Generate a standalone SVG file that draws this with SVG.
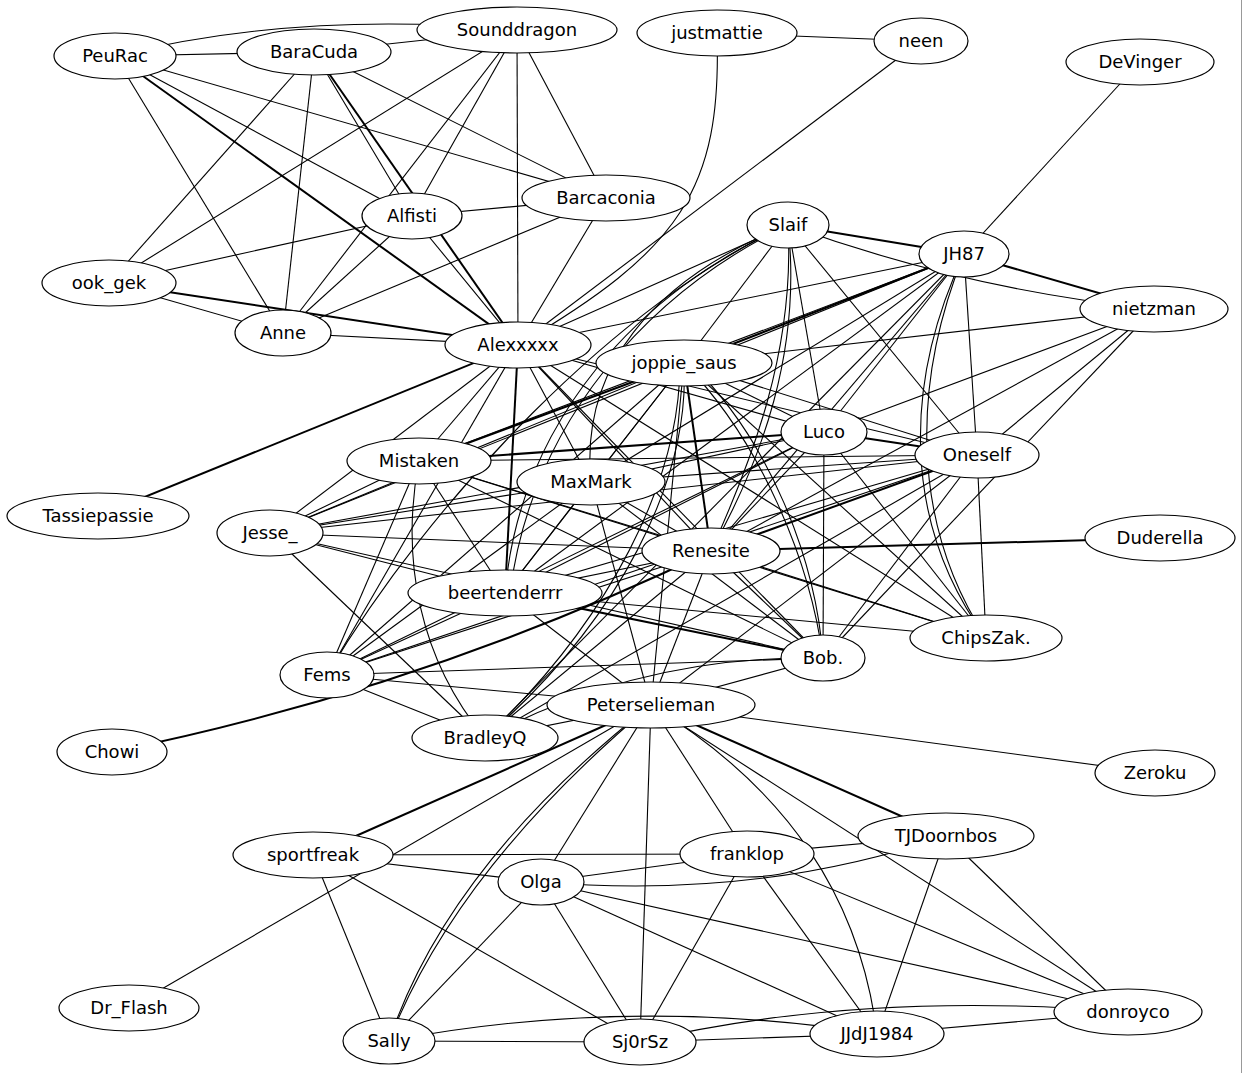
<svg xmlns="http://www.w3.org/2000/svg" width="1243" height="1073" viewBox="0 0 1243 1073">
<style>
.e{stroke:#000;stroke-width:1.1;fill:none}
.d{stroke:#000;stroke-width:2;fill:none}
.n ellipse{fill:#fff;stroke:#000;stroke-width:1.2}
.n text{font-family:"DejaVu Sans",Verdana,sans-serif;font-size:18px;text-anchor:middle;fill:#000}
</style>
<rect width="1243" height="1073" fill="#fff"/>
<line x1="1241.5" y1="0" x2="1241.5" y2="1073" stroke="#999" stroke-width="1"/>
<g id="edges">
<line class="e" x1="115" y1="56" x2="314" y2="52"/>
<line class="e" x1="115" y1="56" x2="606" y2="198"/>
<line class="e" x1="115" y1="56" x2="412" y2="216"/>
<line class="d" x1="115" y1="56" x2="518" y2="345"/>
<line class="e" x1="115" y1="56" x2="283" y2="333"/>
<path class="e" d="M115,56 Q300,10 517,30"/>
<line class="e" x1="314" y1="52" x2="517" y2="30"/>
<line class="e" x1="314" y1="52" x2="109" y2="283"/>
<line class="e" x1="314" y1="52" x2="283" y2="333"/>
<line class="e" x1="314" y1="52" x2="412" y2="216"/>
<line class="d" x1="314" y1="52" x2="518" y2="345"/>
<line class="e" x1="314" y1="52" x2="606" y2="198"/>
<line class="e" x1="517" y1="30" x2="109" y2="283"/>
<line class="e" x1="517" y1="30" x2="283" y2="333"/>
<line class="e" x1="517" y1="30" x2="412" y2="216"/>
<line class="e" x1="517" y1="30" x2="518" y2="345"/>
<line class="e" x1="517" y1="30" x2="606" y2="198"/>
<line class="e" x1="412" y1="216" x2="109" y2="283"/>
<line class="e" x1="412" y1="216" x2="283" y2="333"/>
<line class="e" x1="412" y1="216" x2="606" y2="198"/>
<line class="e" x1="412" y1="216" x2="518" y2="345"/>
<line class="e" x1="606" y1="198" x2="283" y2="333"/>
<line class="e" x1="606" y1="198" x2="518" y2="345"/>
<line class="e" x1="109" y1="283" x2="283" y2="333"/>
<line class="d" x1="109" y1="283" x2="518" y2="345"/>
<line class="e" x1="283" y1="333" x2="518" y2="345"/>
<line class="e" x1="717" y1="33" x2="921" y2="41"/>
<path class="e" d="M717,33 C722,190 680,250 518,345"/>
<line class="e" x1="921" y1="41" x2="518" y2="345"/>
<line class="e" x1="1140" y1="62" x2="964" y2="254"/>
<line class="d" x1="98" y1="516" x2="518" y2="345"/>
<line class="e" x1="788" y1="225" x2="518" y2="345"/>
<line class="e" x1="964" y1="254" x2="518" y2="345"/>
<line class="e" x1="1154" y1="309" x2="684" y2="363"/>
<line class="d" x1="788" y1="225" x2="964" y2="254"/>
<path class="e" d="M788,225 Q967,290 1154,309"/>
<line class="e" x1="788" y1="225" x2="977" y2="455"/>
<line class="e" x1="788" y1="225" x2="824" y2="432"/>
<line class="e" x1="788" y1="225" x2="684" y2="363"/>
<path class="e" d="M788,225 C640,290 520,420 505,593"/>
<path class="e" d="M788,225 C650,292 532,420 510,593"/>
<path class="e" d="M788,225 C650,280 580,370 591,482"/>
<path class="e" d="M788,225 C802,350 762,460 711,551"/>
<path class="e" d="M788,225 C795,350 752,460 711,551"/>
<path class="e" d="M788,225 C620,300 430,500 327,675"/>
<line class="d" x1="964" y1="254" x2="1154" y2="309"/>
<line class="e" x1="964" y1="254" x2="977" y2="455"/>
<line class="e" x1="964" y1="254" x2="824" y2="432"/>
<line class="d" x1="964" y1="254" x2="684" y2="363"/>
<line class="e" x1="964" y1="254" x2="419" y2="461"/>
<line class="e" x1="964" y1="254" x2="591" y2="482"/>
<line class="e" x1="964" y1="254" x2="711" y2="551"/>
<line class="e" x1="964" y1="254" x2="505" y2="593"/>
<line class="e" x1="964" y1="254" x2="485" y2="738"/>
<line class="e" x1="964" y1="254" x2="270" y2="533"/>
<path class="e" d="M964,254 C905,380 900,520 986,638"/>
<path class="e" d="M964,254 C913,380 909,520 986,638"/>
<line class="e" x1="1154" y1="309" x2="824" y2="432"/>
<line class="e" x1="1154" y1="309" x2="977" y2="455"/>
<line class="e" x1="1154" y1="309" x2="711" y2="551"/>
<line class="e" x1="1154" y1="309" x2="823" y2="658"/>
<line class="d" x1="824" y1="432" x2="977" y2="455"/>
<line class="e" x1="824" y1="432" x2="823" y2="658"/>
<line class="e" x1="824" y1="432" x2="986" y2="638"/>
<line class="d" x1="824" y1="432" x2="419" y2="461"/>
<line class="e" x1="824" y1="432" x2="591" y2="482"/>
<line class="e" x1="824" y1="432" x2="270" y2="533"/>
<line class="e" x1="824" y1="432" x2="505" y2="593"/>
<line class="e" x1="824" y1="432" x2="711" y2="551"/>
<line class="e" x1="824" y1="432" x2="327" y2="675"/>
<line class="e" x1="824" y1="432" x2="684" y2="363"/>
<line class="e" x1="824" y1="432" x2="518" y2="345"/>
<line class="e" x1="977" y1="455" x2="986" y2="638"/>
<line class="e" x1="977" y1="455" x2="823" y2="658"/>
<line class="d" x1="977" y1="455" x2="711" y2="551"/>
<line class="e" x1="977" y1="455" x2="684" y2="363"/>
<line class="e" x1="977" y1="455" x2="518" y2="345"/>
<line class="e" x1="977" y1="455" x2="419" y2="461"/>
<line class="e" x1="977" y1="455" x2="591" y2="482"/>
<line class="e" x1="977" y1="455" x2="270" y2="533"/>
<line class="e" x1="977" y1="455" x2="505" y2="593"/>
<line class="e" x1="977" y1="455" x2="485" y2="738"/>
<line class="e" x1="977" y1="455" x2="327" y2="675"/>
<line class="e" x1="977" y1="455" x2="651" y2="705"/>
<line class="d" x1="684" y1="363" x2="419" y2="461"/>
<line class="e" x1="684" y1="363" x2="591" y2="482"/>
<line class="e" x1="684" y1="363" x2="270" y2="533"/>
<line class="d" x1="684" y1="363" x2="711" y2="551"/>
<path class="e" d="M684,363 C760,440 810,560 823,658"/>
<path class="e" d="M690,363 C770,440 816,560 823,658"/>
<line class="e" x1="684" y1="363" x2="986" y2="638"/>
<line class="e" x1="684" y1="363" x2="505" y2="593"/>
<path class="e" d="M684,363 C690,480 620,620 485,738"/>
<path class="e" d="M680,363 C680,480 610,620 485,738"/>
<line class="e" x1="684" y1="363" x2="327" y2="675"/>
<line class="e" x1="684" y1="363" x2="651" y2="705"/>
<line class="e" x1="518" y1="345" x2="419" y2="461"/>
<line class="e" x1="518" y1="345" x2="270" y2="533"/>
<line class="d" x1="518" y1="345" x2="505" y2="593"/>
<line class="e" x1="518" y1="345" x2="591" y2="482"/>
<line class="e" x1="518" y1="345" x2="711" y2="551"/>
<line class="e" x1="518" y1="345" x2="823" y2="658"/>
<line class="e" x1="518" y1="345" x2="986" y2="638"/>
<line class="e" x1="518" y1="345" x2="327" y2="675"/>
<line class="e" x1="419" y1="461" x2="270" y2="533"/>
<line class="e" x1="419" y1="461" x2="505" y2="593"/>
<line class="e" x1="419" y1="461" x2="327" y2="675"/>
<line class="e" x1="419" y1="461" x2="711" y2="551"/>
<line class="e" x1="419" y1="461" x2="823" y2="658"/>
<line class="e" x1="419" y1="461" x2="986" y2="638"/>
<path class="e" d="M419,461 C400,560 420,660 485,738"/>
<line class="e" x1="591" y1="482" x2="270" y2="533"/>
<line class="e" x1="591" y1="482" x2="505" y2="593"/>
<line class="e" x1="591" y1="482" x2="711" y2="551"/>
<line class="e" x1="591" y1="482" x2="823" y2="658"/>
<line class="e" x1="591" y1="482" x2="651" y2="705"/>
<line class="e" x1="591" y1="482" x2="327" y2="675"/>
<line class="e" x1="270" y1="533" x2="711" y2="551"/>
<line class="e" x1="270" y1="533" x2="823" y2="658"/>
<line class="e" x1="270" y1="533" x2="505" y2="593"/>
<line class="e" x1="270" y1="533" x2="485" y2="738"/>
<line class="d" x1="711" y1="551" x2="1160" y2="538"/>
<path class="d" d="M112,752 Q420,690 711,551"/>
<line class="e" x1="711" y1="551" x2="505" y2="593"/>
<line class="e" x1="711" y1="551" x2="327" y2="675"/>
<line class="e" x1="711" y1="551" x2="485" y2="738"/>
<line class="e" x1="711" y1="551" x2="651" y2="705"/>
<line class="e" x1="711" y1="551" x2="823" y2="658"/>
<line class="e" x1="711" y1="551" x2="986" y2="638"/>
<line class="e" x1="505" y1="593" x2="327" y2="675"/>
<line class="d" x1="505" y1="593" x2="823" y2="658"/>
<line class="e" x1="505" y1="593" x2="651" y2="705"/>
<line class="e" x1="505" y1="593" x2="986" y2="638"/>
<line class="e" x1="823" y1="658" x2="327" y2="675"/>
<path class="e" d="M823,658 Q640,655 485,738"/>
<line class="e" x1="823" y1="658" x2="651" y2="705"/>
<line class="e" x1="327" y1="675" x2="485" y2="738"/>
<line class="e" x1="327" y1="675" x2="651" y2="705"/>
<line class="e" x1="485" y1="738" x2="651" y2="705"/>
<line class="e" x1="651" y1="705" x2="1155" y2="773"/>
<line class="e" x1="651" y1="705" x2="129" y2="1008"/>
<line class="d" x1="651" y1="705" x2="313" y2="855"/>
<path class="e" d="M389,1041 Q448,865 651,705"/>
<path class="e" d="M389,1041 Q456,869 651,705"/>
<line class="e" x1="651" y1="705" x2="541" y2="882"/>
<line class="e" x1="651" y1="705" x2="640" y2="1042"/>
<line class="e" x1="651" y1="705" x2="747" y2="854"/>
<path class="e" d="M651,705 C790,790 860,900 877,1034"/>
<line class="d" x1="651" y1="705" x2="946" y2="836"/>
<line class="e" x1="651" y1="705" x2="1128" y2="1012"/>
<line class="e" x1="313" y1="855" x2="747" y2="854"/>
<line class="e" x1="313" y1="855" x2="541" y2="882"/>
<line class="e" x1="313" y1="855" x2="389" y2="1041"/>
<line class="e" x1="313" y1="855" x2="640" y2="1042"/>
<line class="e" x1="541" y1="882" x2="747" y2="854"/>
<path class="e" d="M541,882 Q760,900 946,836"/>
<line class="e" x1="541" y1="882" x2="389" y2="1041"/>
<line class="e" x1="541" y1="882" x2="640" y2="1042"/>
<line class="e" x1="541" y1="882" x2="877" y2="1034"/>
<line class="e" x1="541" y1="882" x2="1128" y2="1012"/>
<line class="e" x1="747" y1="854" x2="946" y2="836"/>
<line class="e" x1="747" y1="854" x2="640" y2="1042"/>
<line class="e" x1="747" y1="854" x2="877" y2="1034"/>
<line class="e" x1="747" y1="854" x2="1128" y2="1012"/>
<line class="e" x1="946" y1="836" x2="877" y2="1034"/>
<line class="e" x1="946" y1="836" x2="1128" y2="1012"/>
<line class="e" x1="389" y1="1041" x2="640" y2="1042"/>
<path class="e" d="M389,1041 Q630,995 877,1034"/>
<line class="e" x1="640" y1="1042" x2="877" y2="1034"/>
<path class="e" d="M640,1042 Q860,990 1128,1012"/>
<line class="e" x1="877" y1="1034" x2="1128" y2="1012"/>
</g>
<g id="n-PeuRac" class="n"><ellipse cx="115" cy="56" rx="61" ry="23"/><text x="115" y="62">PeuRac</text></g>
<g id="n-BaraCuda" class="n"><ellipse cx="314" cy="52" rx="77" ry="23"/><text x="314" y="58">BaraCuda</text></g>
<g id="n-Sounddragon" class="n"><ellipse cx="517" cy="30" rx="100" ry="23"/><text x="517" y="36">Sounddragon</text></g>
<g id="n-justmattie" class="n"><ellipse cx="717" cy="33" rx="80" ry="23"/><text x="717" y="39">justmattie</text></g>
<g id="n-neen" class="n"><ellipse cx="921" cy="41" rx="47" ry="23"/><text x="921" y="47">neen</text></g>
<g id="n-DeVinger" class="n"><ellipse cx="1140" cy="62" rx="74" ry="23"/><text x="1140" y="68">DeVinger</text></g>
<g id="n-Barcaconia" class="n"><ellipse cx="606" cy="198" rx="84" ry="23"/><text x="606" y="204">Barcaconia</text></g>
<g id="n-Alfisti" class="n"><ellipse cx="412" cy="216" rx="50" ry="23"/><text x="412" y="222">Alfisti</text></g>
<g id="n-Slaif" class="n"><ellipse cx="788" cy="225" rx="41" ry="23"/><text x="788" y="231">Slaif</text></g>
<g id="n-JH87" class="n"><ellipse cx="964" cy="254" rx="45" ry="23"/><text x="964" y="260">JH87</text></g>
<g id="n-ook_gek" class="n"><ellipse cx="109" cy="283" rx="67" ry="23"/><text x="109" y="289">ook_gek</text></g>
<g id="n-nietzman" class="n"><ellipse cx="1154" cy="309" rx="74" ry="23"/><text x="1154" y="315">nietzman</text></g>
<g id="n-Anne" class="n"><ellipse cx="283" cy="333" rx="48" ry="23"/><text x="283" y="339">Anne</text></g>
<g id="n-Alexxxxx" class="n"><ellipse cx="518" cy="345" rx="73" ry="23"/><text x="518" y="351">Alexxxxx</text></g>
<g id="n-joppie_saus" class="n"><ellipse cx="684" cy="363" rx="88" ry="23"/><text x="684" y="369">joppie_saus</text></g>
<g id="n-Luco" class="n"><ellipse cx="824" cy="432" rx="43" ry="23"/><text x="824" y="438">Luco</text></g>
<g id="n-Oneself" class="n"><ellipse cx="977" cy="455" rx="62" ry="23"/><text x="977" y="461">Oneself</text></g>
<g id="n-Mistaken" class="n"><ellipse cx="419" cy="461" rx="72" ry="23"/><text x="419" y="467">Mistaken</text></g>
<g id="n-MaxMark" class="n"><ellipse cx="591" cy="482" rx="74" ry="23"/><text x="591" y="488">MaxMark</text></g>
<g id="n-Tassiepassie" class="n"><ellipse cx="98" cy="516" rx="91" ry="23"/><text x="98" y="522">Tassiepassie</text></g>
<g id="n-Jesse_" class="n"><ellipse cx="270" cy="533" rx="53" ry="23"/><text x="270" y="539">Jesse_</text></g>
<g id="n-Duderella" class="n"><ellipse cx="1160" cy="538" rx="75" ry="23"/><text x="1160" y="544">Duderella</text></g>
<g id="n-Renesite" class="n"><ellipse cx="711" cy="551" rx="69" ry="23"/><text x="711" y="557">Renesite</text></g>
<g id="n-beertenderrr" class="n"><ellipse cx="505" cy="593" rx="97" ry="23"/><text x="505" y="599">beertenderrr</text></g>
<g id="n-ChipsZak" class="n"><ellipse cx="986" cy="638" rx="76" ry="23"/><text x="986" y="644">ChipsZak.</text></g>
<g id="n-Bob" class="n"><ellipse cx="823" cy="658" rx="42" ry="23"/><text x="823" y="664">Bob.</text></g>
<g id="n-Fems" class="n"><ellipse cx="327" cy="675" rx="47" ry="23"/><text x="327" y="681">Fems</text></g>
<g id="n-Peterselieman" class="n"><ellipse cx="651" cy="705" rx="104" ry="23"/><text x="651" y="711">Peterselieman</text></g>
<g id="n-BradleyQ" class="n"><ellipse cx="485" cy="738" rx="73" ry="23"/><text x="485" y="744">BradleyQ</text></g>
<g id="n-Chowi" class="n"><ellipse cx="112" cy="752" rx="55" ry="23"/><text x="112" y="758">Chowi</text></g>
<g id="n-Zeroku" class="n"><ellipse cx="1155" cy="773" rx="60" ry="23"/><text x="1155" y="779">Zeroku</text></g>
<g id="n-TJDoornbos" class="n"><ellipse cx="946" cy="836" rx="88" ry="23"/><text x="946" y="842">TJDoornbos</text></g>
<g id="n-sportfreak" class="n"><ellipse cx="313" cy="855" rx="80" ry="23"/><text x="313" y="861">sportfreak</text></g>
<g id="n-franklop" class="n"><ellipse cx="747" cy="854" rx="67" ry="23"/><text x="747" y="860">franklop</text></g>
<g id="n-Olga" class="n"><ellipse cx="541" cy="882" rx="43" ry="23"/><text x="541" y="888">Olga</text></g>
<g id="n-Dr_Flash" class="n"><ellipse cx="129" cy="1008" rx="70" ry="23"/><text x="129" y="1014">Dr_Flash</text></g>
<g id="n-donroyco" class="n"><ellipse cx="1128" cy="1012" rx="74" ry="23"/><text x="1128" y="1018">donroyco</text></g>
<g id="n-Sally" class="n"><ellipse cx="389" cy="1041" rx="46" ry="23"/><text x="389" y="1047">Sally</text></g>
<g id="n-Sj0rSz" class="n"><ellipse cx="640" cy="1042" rx="56" ry="23"/><text x="640" y="1048">Sj0rSz</text></g>
<g id="n-JJdJ1984" class="n"><ellipse cx="877" cy="1034" rx="67" ry="23"/><text x="877" y="1040">JJdJ1984</text></g>
</svg>
